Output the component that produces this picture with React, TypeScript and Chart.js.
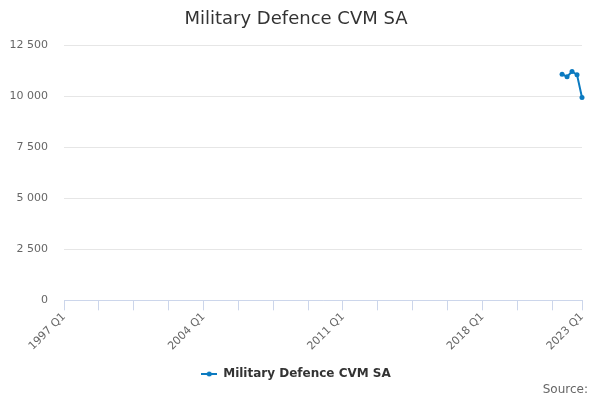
import React, { useEffect, useRef } from 'react';
import { Chart, registerables } from 'chart.js';

Chart.register(...registerables);

const startYear = 1997;
const endYear = 2023;
const quarterNames = ['Q1', 'Q2', 'Q3', 'Q4'];
const categories: string[] = [];
for (let y = startYear; y <= endYear; y++) {
  for (const q of quarterNames) {
    if (y === endYear && q !== 'Q1') break;
    categories.push(`${y} ${q}`);
  }
}
const seriesName = 'Military Defence CVM SA';
const seriesStart = '2022 Q1';
const seriesValues = [11100, 10970, 11230, 11070, 9950];
const labelledTicks = ['1997 Q1', '2004 Q1', '2011 Q1', '2018 Q1', '2023 Q1'];
const tickEvery = 7;
const yMax = 12500;
const yStep = 2500;
const sourceText = 'Source:';

const FONT = "'DejaVu Sans', sans-serif";
const LINE_COLOR = '#0b7ac0';

const sourcePlugin = {
  id: 'sourceText',
  afterDraw(chart: any) {
    const ctx = chart.ctx;
    ctx.save();
    ctx.font = `12px ${FONT}`;
    ctx.fillStyle = '#666666';
    ctx.textAlign = 'right';
    ctx.textBaseline = 'middle';
    ctx.fillText(sourceText, 588, 390);
    ctx.restore();
  },
};

export default function App() {
  const ref = useRef<HTMLCanvasElement | null>(null);
  useEffect(() => {
    if (!ref.current) return;
    const startIdx = categories.indexOf(seriesStart);
    const data = categories.map((_, i) =>
      i >= startIdx && i - startIdx < seriesValues.length ? seriesValues[i - startIdx] : null
    );
    const last = categories.length - 1;

    const sym = document.createElement('canvas');
    sym.width = 16;
    sym.height = 10;
    const sctx = sym.getContext('2d')!;
    sctx.strokeStyle = LINE_COLOR;
    sctx.lineWidth = 2;
    sctx.beginPath();
    sctx.moveTo(0, 5);
    sctx.lineTo(16, 5);
    sctx.stroke();
    sctx.fillStyle = LINE_COLOR;
    sctx.beginPath();
    sctx.arc(8, 5, 2.5, 0, Math.PI * 2);
    sctx.fill();

    const chart = new Chart(ref.current, {
      type: 'line',
      data: {
        labels: categories,
        datasets: [
          {
            label: seriesName,
            data,
            borderColor: LINE_COLOR,
            backgroundColor: LINE_COLOR,
            borderWidth: 2,
            pointRadius: 2.5,
            pointBorderWidth: 0,
            pointHoverRadius: 3,
            spanGaps: false,
            tension: 0,
          },
        ],
      },
      plugins: [sourcePlugin],
      options: {
        responsive: false,
        animation: false,
        layout: { padding: { left: 10, right: 18, top: 0, bottom: 10 } },
        plugins: {
          title: {
            display: true,
            text: seriesName,
            color: '#333333',
            font: { family: FONT, size: 18, weight: 'normal' },
            padding: { top: 9, bottom: 15 },
          },
          legend: {
            display: true,
            position: 'bottom',
            labels: {
              usePointStyle: true,
              pointStyle: sym as any,
              pointStyleWidth: 16,
              color: '#333333',
              font: { family: FONT, size: 12, weight: 'bold' },
              padding: 15,
            },
          },
          tooltip: { enabled: false },
        },
        scales: {
          x: {
            type: 'category',
            offset: false,
            border: { display: true, color: '#ccd6eb', width: 1 },
            grid: {
              display: true,
              drawOnChartArea: false,
              drawTicks: true,
              tickLength: 10,
              color: (ctx: any) =>
                ctx.index % tickEvery === 0 || ctx.index === last ? '#ccd6eb' : 'rgba(0,0,0,0)',
            },
            ticks: {
              autoSkip: false,
              minRotation: 45,
              maxRotation: 45,
              color: '#666666',
              font: { family: FONT, size: 11 },
              padding: 0,
              callback: (_v: any, i: number) =>
                labelledTicks.includes(categories[i]) ? categories[i] : '',
            },
            afterFit: (scale: any) => {
              scale.paddingLeft = 0;
              scale.paddingRight = 0;
            },
          },
          y: {
            min: 0,
            max: yMax,
            border: { display: false },
            grid: { color: '#e6e6e6', drawTicks: false },
            ticks: {
              stepSize: yStep,
              padding: 16,
              color: '#666666',
              font: { family: FONT, size: 11 },
              callback: (v: any) =>
                Number(v).toString().replace(/\B(?=(\d{3})+(?!\d))/g, ' '),
            },
            afterFit: (scale: any) => {
              scale.width = 54;
            },
          },
        },
      },
    });
    return () => chart.destroy();
  }, []);

  return (
    <div style={{ position: 'absolute', left: 0, top: 0, width: 600, height: 400, background: '#fff' }}>
      <canvas ref={ref} width={600} height={400} />
    </div>
  );
}
